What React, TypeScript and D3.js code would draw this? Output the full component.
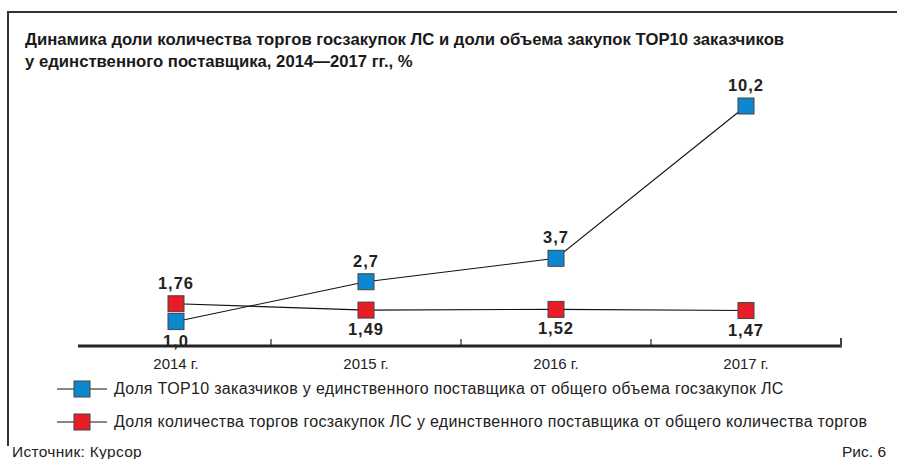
import React from 'react'
import { scaleBand, scaleLinear, line } from 'd3'

// Data
const years = ['2014 г.', '2015 г.', '2016 г.', '2017 г.']
const topShare = [1.0, 2.7, 3.7, 10.2]
const topLabels = ['1,0', '2,7', '3,7', '10,2']
const tradeShare = [1.76, 1.49, 1.52, 1.47]
const tradeLabels = ['1,76', '1,49', '1,52', '1,47']
const legendItems = [
  'Доля TOP10 заказчиков у единственного поставщика от общего объема госзакупок ЛС',
  'Доля количества торгов госзакупок ЛС у единственного поставщика от общего количества торгов',
]
const titleLines = [
  'Динамика доли количества торгов госзакупок ЛС и доли объема закупок TOP10 заказчиков',
  'у единственного поставщика, 2014—2017 гг., %',
]

const W = 897
const H = 459
const BLUE = '#0b88cf'
const RED = '#e81d25'
const FONT = '"Liberation Sans", Arial, sans-serif'

const App = () => {
  const x = scaleBand().domain(years).range([81, 841])
  const y = scaleLinear().domain([0, 10.2]).range([345, 106])
  const cx = (d) => x(d) + x.bandwidth() / 2

  const topLine = line()
    .x((d, i) => cx(years[i]))
    .y((d) => y(d))
  const tradeLine = line()
    .x((d, i) => cx(years[i]))
    .y((d) => y(d))

  const sq = 16
  // label offsets: above or below the marker
  const topBelow = [true, false, false, false]
  const tradeBelow = [false, true, true, true]

  return (
    <svg width={W} height={H} style={{ position: 'absolute', left: 0, top: 0, background: '#fff' }}>
      {/* frame */}
      <line x1={8} y1={12} x2={W} y2={12} stroke="#333" strokeWidth={2} />
      <line x1={8} y1={11} x2={8} y2={446} stroke="#333" strokeWidth={2} />

      {/* title */}
      {titleLines.map((t, i) => (
        <text key={i} x={25} y={45 + i * 22} fontFamily={FONT} fontWeight="bold" fontSize={16.7} fill="#1a1a1a">
          {t}
        </text>
      ))}

      {/* axis */}
      <line x1={78} y1={346} x2={842} y2={346} stroke="#222" strokeWidth={3} />
      {years.slice(1).map((yr) => (
        <line key={yr} x1={x(yr)} y1={339} x2={x(yr)} y2={346} stroke="#222" strokeWidth={1.2} />
      ))}
      <line x1={841} y1={338} x2={841} y2={347} stroke="#444" strokeWidth={2} />
      {years.map((yr) => (
        <text key={yr} x={cx(yr)} y={369} textAnchor="middle" fontFamily={FONT} fontSize={15} fill="#222">
          {yr}
        </text>
      ))}

      {/* lines */}
      <path d={tradeLine(tradeShare)} fill="none" stroke="#111" strokeWidth={1.1} />
      <path d={topLine(topShare)} fill="none" stroke="#111" strokeWidth={1.1} />

      {/* markers */}
      {tradeShare.map((v, i) => (
        <rect key={'r' + i} x={cx(years[i]) - sq / 2} y={y(v) - sq / 2} width={sq} height={sq}
          fill={RED} stroke="#444" strokeWidth={1} />
      ))}
      {topShare.map((v, i) => (
        <rect key={'b' + i} x={cx(years[i]) - sq / 2} y={y(v) - sq / 2} width={sq} height={sq}
          fill={BLUE} stroke="#444" strokeWidth={1} />
      ))}

      {/* value labels */}
      {topShare.map((v, i) => (
        <text key={'tl' + i} x={cx(years[i])} y={topBelow[i] ? y(v) + 25 : y(v) - 15}
          textAnchor="middle" fontFamily={FONT} fontWeight="bold" fontSize={16.5} letterSpacing={1} fill="#222">
          {topLabels[i]}
        </text>
      ))}
      {tradeShare.map((v, i) => (
        <text key={'rl' + i} x={cx(years[i])} y={tradeBelow[i] ? y(v) + 25 : y(v) - 15}
          textAnchor="middle" fontFamily={FONT} fontWeight="bold" fontSize={16.5} letterSpacing={1} fill="#222">
          {tradeLabels[i]}
        </text>
      ))}

      {/* legend */}
      {legendItems.map((t, i) => {
        const ly = 389 + i * 33
        return (
          <g key={i}>
            <line x1={57} y1={ly} x2={107} y2={ly} stroke="#111" strokeWidth={1.2} />
            <rect x={74} y={ly - 8} width={16} height={16} fill={i === 0 ? BLUE : RED} stroke="#444" strokeWidth={1} />
            <text x={114} y={ly + 5} fontFamily={FONT} fontSize={16} letterSpacing={0.3} fill="#222">{t}</text>
          </g>
        )
      })}

      {/* footer */}
      <text x={12} y={457} fontFamily={FONT} fontSize={15.5} letterSpacing={0.3} fill="#222">Источник: Курсор</text>
      <text x={886} y={457} textAnchor="end" fontFamily={FONT} fontSize={15.5} fill="#222">Рис. 6</text>
    </svg>
  )
}

export default App
